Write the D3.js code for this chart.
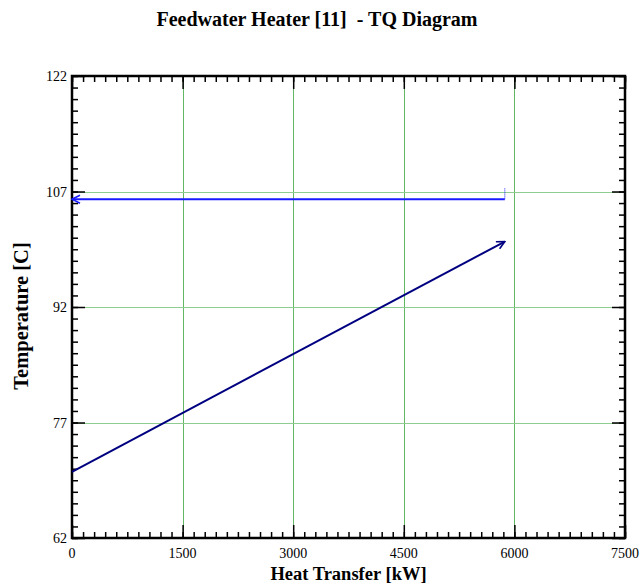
<!DOCTYPE html>
<html>
  <head>
    <meta charset="UTF-8">
    <title>Feedwater Heater TQ Diagram</title>
    <script src="https://d3js.org/d3.v7.min.js"></script>
    <style>
      body { margin: 0; background: #fff; }
      text { font-family: "Liberation Serif", "Times New Roman", serif; }
    </style>
  </head>
  <body>
    <div id="chart-container"></div>
  <script type="text/javascript">

    // Hot stream (condensing steam), flows right to left
    const hotQ = [5870, 5870, 0];
    const hotT = [107.4, 106.0, 106.0];

    // Cold stream (feedwater), flows left to right
    const coldQ = [0, 5870];
    const coldT = [70.6, 100.5];

    const xTicks = [0, 1500, 3000, 4500, 6000, 7500];
    const yTicks = [62, 77, 92, 107, 122];

    const width = 640;
    const height = 585;
    const margin = ({top: 76, right: 15, bottom: 47, left: 72});

    const x = d3.scaleLinear()
        .domain([0, 7500])
        .range([margin.left, width - margin.right]);

    const y = d3.scaleLinear()
        .domain([62, 122])
        .range([height - margin.bottom, margin.top]);

    const svg = d3.select("#chart-container")
        .append("svg")
        .attr("width", width)
        .attr("height", height);

    // arrow heads
    const defs = svg.append("defs");
    [["arrHot", "#1a1aff"], ["arrCold", "#000080"]].forEach(([id, c]) => {
        defs.append("marker")
            .attr("id", id)
            .attr("viewBox", "0 0 10 10")
            .attr("refX", 9).attr("refY", 5)
            .attr("markerWidth", 5).attr("markerHeight", 5)
            .attr("orient", "auto")
            .attr("markerUnits", "strokeWidth")
          .append("path")
            .attr("d", "M1,1 L9,5 L1,9")
            .attr("fill", "none")
            .attr("stroke", c)
            .attr("stroke-width", 1.6);
    });

    // grid (fine dotted green in the original, drawn as a pale green hairline)
    const grid = svg.append("g").attr("shape-rendering", "crispEdges");

    grid.selectAll(".gx")
        .data(xTicks.slice(1, -1))
        .join("line")
        .attr("class", "gx")
        .attr("x1", d => Math.round(x(d)) + 0.5).attr("x2", d => Math.round(x(d)) + 0.5)
        .attr("y1", y(62)).attr("y2", y(122))
        .attr("stroke", "#62b862")
        .attr("stroke-width", 1);

    grid.selectAll(".gy")
        .data(yTicks.slice(1, -1))
        .join("line")
        .attr("class", "gy")
        .attr("x1", x(0)).attr("x2", x(7500))
        .attr("y1", d => Math.round(y(d)) + 0.5).attr("y2", d => Math.round(y(d)) + 0.5)
        .attr("stroke", "#8fcc8f")
        .attr("stroke-width", 1);

    // axes: ticks inward on all four sides
    const xMinor = d3.range(0, 7501, 150);
    const yMinor = d3.range(62, 122.01, 1.5);

    svg.append("g")
        .attr("transform", `translate(0,${y(62)})`)
        .call(d3.axisTop(x).tickValues(xMinor).tickSize(6).tickFormat(""))
        .call(g => g.select(".domain").remove());
    svg.append("g")
        .attr("transform", `translate(0,${y(62)})`)
        .call(d3.axisTop(x).tickValues(xTicks).tickSize(13).tickFormat(""))
        .call(g => g.select(".domain").remove());
    svg.append("g")
        .attr("transform", `translate(0,${y(122)})`)
        .call(d3.axisBottom(x).tickValues(xMinor).tickSize(6).tickFormat(""))
        .call(g => g.select(".domain").remove());
    svg.append("g")
        .attr("transform", `translate(0,${y(122)})`)
        .call(d3.axisBottom(x).tickValues(xTicks).tickSize(13).tickFormat(""))
        .call(g => g.select(".domain").remove());

    svg.append("g")
        .attr("transform", `translate(${x(0)},0)`)
        .call(d3.axisRight(y).tickValues(yMinor).tickSize(6).tickFormat(""))
        .call(g => g.select(".domain").remove());
    svg.append("g")
        .attr("transform", `translate(${x(0)},0)`)
        .call(d3.axisRight(y).tickValues(yTicks).tickSize(13).tickFormat(""))
        .call(g => g.select(".domain").remove());
    svg.append("g")
        .attr("transform", `translate(${x(7500)},0)`)
        .call(d3.axisLeft(y).tickValues(yMinor).tickSize(6).tickFormat(""))
        .call(g => g.select(".domain").remove());
    svg.append("g")
        .attr("transform", `translate(${x(7500)},0)`)
        .call(d3.axisLeft(y).tickValues(yTicks).tickSize(13).tickFormat(""))
        .call(g => g.select(".domain").remove());

    svg.selectAll(".tick line").attr("stroke", "#000").attr("stroke-width", 1.5);

    // tick labels
    svg.append("g")
        .selectAll("text")
        .data(xTicks)
        .join("text")
        .attr("x", d => x(d))
        .attr("y", y(62) + 20)
        .attr("text-anchor", "middle")
        .attr("font-size", 14)
        .text(d => d);

    svg.append("g")
        .selectAll("text")
        .data(yTicks)
        .join("text")
        .attr("x", x(0) - 5)
        .attr("y", d => y(d) + 5)
        .attr("text-anchor", "end")
        .attr("font-size", 14)
        .text(d => d);

    // frame
    svg.append("rect")
        .attr("x", x(0)).attr("y", y(122))
        .attr("width", x(7500) - x(0))
        .attr("height", y(62) - y(122))
        .attr("fill", "none")
        .attr("stroke", "#000")
        .attr("stroke-width", 2.5);

    // streams
    const line = d3.line().x(d => x(d[0])).y(d => y(d[1]));

    svg.append("path")
        .attr("d", line(hotQ.slice(0, 2).map((q, i) => [q, hotT[i]])))
        .attr("fill", "none")
        .attr("stroke", "#1a1aff")
        .attr("stroke-width", 1)
        .attr("stroke-dasharray", "1,1");
    svg.append("path")
        .attr("d", line(hotQ.slice(1).map((q, i) => [q, hotT[i + 1]])))
        .attr("fill", "none")
        .attr("stroke", "#1a1aff")
        .attr("stroke-width", 2)
        .attr("marker-end", "url(#arrHot)");

    svg.append("path")
        .attr("d", line(coldQ.map((q, i) => [q, coldT[i]])))
        .attr("fill", "none")
        .attr("stroke", "#000080")
        .attr("stroke-width", 2)
        .attr("marker-end", "url(#arrCold)");

    // titles
    svg.append("text")
        .attr("x", 317).attr("y", 26)
        .attr("text-anchor", "middle")
        .attr("font-size", 20)
        .attr("font-weight", "bold")
        .style("white-space", "pre")
        .text("Feedwater Heater [11]  - TQ Diagram");

    svg.append("text")
        .attr("x", (x(0) + x(7500)) / 2).attr("y", 580)
        .attr("text-anchor", "middle")
        .attr("font-size", 18.5)
        .attr("font-weight", "bold")
        .text("Heat Transfer [kW]");

    svg.append("text")
        .attr("transform", `translate(28,316) rotate(-90)`)
        .attr("text-anchor", "middle")
        .attr("font-size", 20.5)
        .attr("font-weight", "bold")
        .text("Temperature [C]");
  </script>
  </body>
</html>
